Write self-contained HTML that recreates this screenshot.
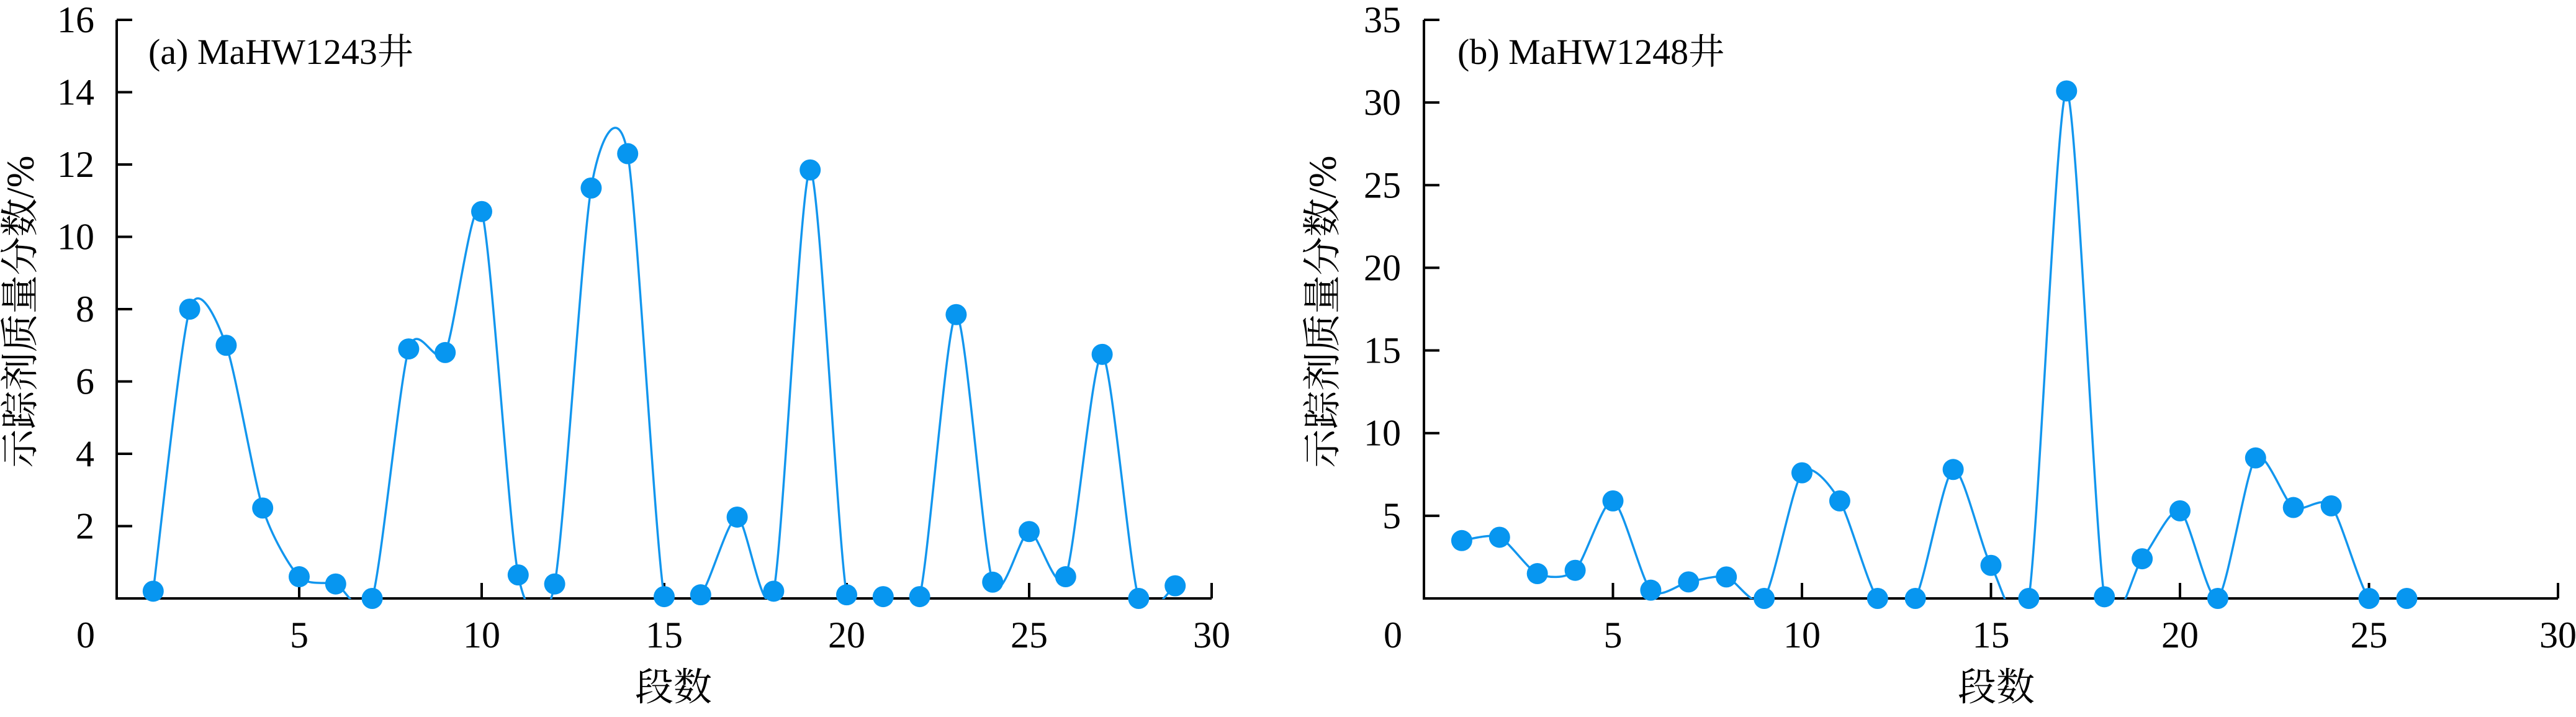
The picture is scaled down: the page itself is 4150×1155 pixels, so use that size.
<!DOCTYPE html>
<html><head><meta charset="utf-8">
<style>
html,body{margin:0;padding:0;background:#fff;}
svg{display:block;}
text{font-family:"Liberation Serif","Noto Serif CJK SC","Noto Sans CJK SC",serif;fill:#000;}
</style></head>
<body>
<svg id="s" width="4150" height="1155" viewBox="0 0 4150 1155" xmlns="http://www.w3.org/2000/svg"></svg>
<script>
const NS="http://www.w3.org/2000/svg";
const svg=document.getElementById('s');
let cid=0;
function el(t,a,txt,parent){const e=document.createElementNS(NS,t);for(const k in a)e.setAttribute(k,a[k]);if(txt!==undefined&&txt!==null)e.textContent=txt;(parent||svg).appendChild(e);return e;}
function chart(o){
  const X=v=>o.x0+v*o.ux, Y=v=>o.y0-v*o.uy;
  el('line',{x1:o.x0,y1:o.y0,x2:X(30),y2:o.y0,stroke:'#000','stroke-width':4});
  el('line',{x1:o.x0,y1:o.y0+2,x2:o.x0,y2:Y(o.ymax),stroke:'#000','stroke-width':4});
  for(let v=5;v<=30;v+=5){el('line',{x1:X(v),y1:o.y0,x2:X(v),y2:o.y0-25,stroke:'#000','stroke-width':4});}
  for(let v=0;v<=30;v+=5){el('text',{x:X(v)-(v==0?50:0),y:1043,'font-size':60,'text-anchor':'middle'},String(v));}
  for(let v=o.ystep;v<=o.ymax;v+=o.ystep){
    el('line',{x1:o.x0,y1:Y(v),x2:o.x0+25,y2:Y(v),stroke:'#000','stroke-width':4});
    el('text',{x:o.lx,y:Y(v)+20,'font-size':60,'text-anchor':'end'},String(v));
  }
  el('text',{x:o.tx,y:103,'font-size':58},o.title);
  el('text',{x:o.ylx,y:502,'font-size':62,'text-anchor':'middle',transform:`rotate(-90 ${o.ylx} 502)`,dy:'0.35em'},'示踪剂质量分数/%');
  el('text',{x:o.xlx,y:1128,'font-size':62,'text-anchor':'middle'},'段数');
  const id='c'+(cid++);
  const defs=el('defs',{});
  const cp=el('clipPath',{id:id},null,defs);
  el('rect',{x:o.x0,y:0,width:30*o.ux,height:o.y0+1},null,cp);
  const p=o.d.map((v,i)=>[X(i+1),Y(v)]);
  let d=`M${p[0][0]},${p[0][1]}`;
  const k=8;
  for(let i=0;i<p.length-1;i++){
    const p0=p[i-1]||p[i],p1=p[i],p2=p[i+1],p3=p[i+2]||p[i+1];
    const c1=[p1[0]+(p2[0]-p0[0])/k,p1[1]+(p2[1]-p0[1])/k];
    const c2=[p2[0]-(p3[0]-p1[0])/k,p2[1]-(p3[1]-p1[1])/k];
    d+=` C${c1[0]},${c1[1]} ${c2[0]},${c2[1]} ${p2[0]},${p2[1]}`;
  }
  el('path',{d:d,fill:'none',stroke:'#1296ee','stroke-width':3.5,'clip-path':`url(#${id})`});
  p.forEach(q=>el('circle',{cx:q[0],cy:q[1],r:17,fill:'#0796f0'}));
}
chart({x0:188,y0:964,ux:58.8,uy:58.25,ymax:16,ystep:2,lx:152,tx:239,ylx:32,xlx:1085,title:'(a) MaHW1243井',
 d:[0.2,8.0,7.0,2.5,0.6,0.4,0,6.9,6.8,10.7,0.65,0.4,11.35,12.3,0.05,0.1,2.25,0.2,11.85,0.1,0.05,0.05,7.85,0.45,1.85,0.6,6.75,0,0.35]});
chart({x0:2294,y0:964,ux:60.9,uy:26.63,ymax:35,ystep:5,lx:2257,tx:2348,ylx:2130,xlx:3216,title:'(b) MaHW1248井',
 d:[3.5,3.7,1.5,1.7,5.9,0.5,1.0,1.3,0,7.6,5.9,0,0,7.8,2.0,0,30.7,0.1,2.4,5.3,0,8.5,5.5,5.6,0,0]});
</script>
</body></html>
